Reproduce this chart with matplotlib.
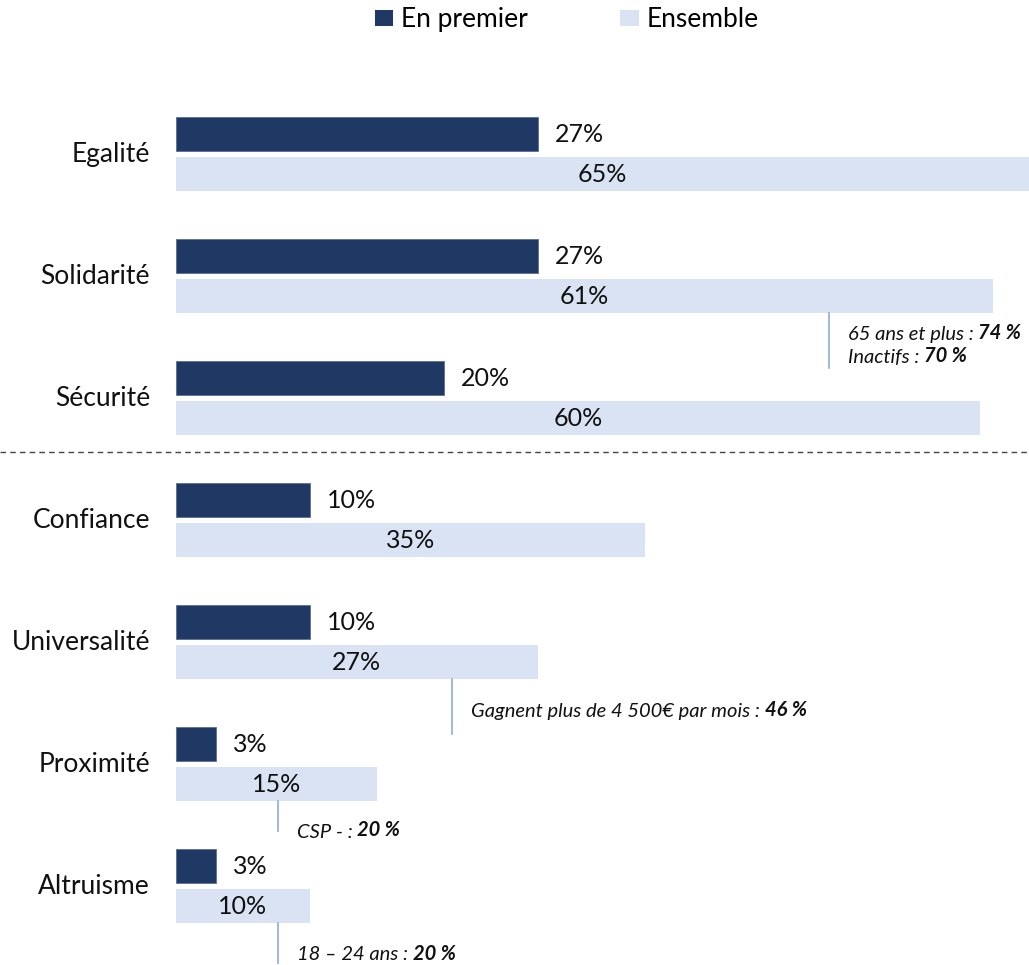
import matplotlib
matplotlib.use('Agg')
import matplotlib.pyplot as plt
from matplotlib.patches import Patch

plt.rcParams['font.family'] = ['Lato', 'DejaVu Sans']

# donnees
categories = ['Egalité', 'Solidarité', 'Sécurité', 'Confiance', 'Universalité', 'Proximité', 'Altruisme']
en_premier = [27, 27, 20, 10, 10, 3, 3]
ensemble = [65, 61, 60, 35, 27, 15, 10]
series = ['En premier', 'Ensemble']

# notes : (index categorie, position x de la ligne en %, [(texte italique, texte gras), ...])
notes = [
    (1, 48.7, [('65 ans et plus : ', '74 %'), ('Inactifs : ', '70 %')]),
    (4, 20.6, [('Gagnent plus de 4 500€ par mois : ', '46 %')]),
    (5, 7.6, [('CSP - : ', '20 %')]),
    (6, 7.6, [('18 – 24 ans : ', '20 %')]),
]

c_fonce = '#203864'
c_clair = '#DAE3F3'
c_note = '#8FAADC'

W, H = 1029, 965
fig = plt.figure(figsize=(W / 100, H / 100), dpi=100)
x0 = 176
ax = fig.add_axes([x0 / W, 0, (W - x0) / W, 1])
px_pct = 13.4
xmax = (W - x0) / px_pct
ax.set_xlim(0, xmax)
pas = 122.0
c0 = 154.0
ax.set_ylim((H - c0) / pas, -c0 / pas)
ax.axis('off')

h = 34 / pas
off = 20 / pas
ypos = list(range(len(categories)))

ax.barh([y - off for y in ypos], en_premier, height=h, color=c_fonce, edgecolor='#5b6f95', linewidth=0.6)
ax.barh([y + off for y in ypos], ensemble, height=h, color=c_clair)

for i, cat in enumerate(categories):
    ax.text(-26 / px_pct, i, cat, ha='right', va='center', fontsize=19, color='#111111', clip_on=False)
    ax.annotate('%d%%' % en_premier[i], xy=(en_premier[i], i - off), xytext=(12, 0),
                textcoords='offset points', ha='left', va='center', fontsize=18, color='#111111')
    ax.text(min(ensemble[i], xmax) / 2, i + off, '%d%%' % ensemble[i], ha='center', va='center',
            fontsize=18, color='#111111')

# ligne pointillee de separation
ax.axhline((452 - c0) / pas, xmin=-x0 / (W - x0), xmax=1, color='#444444', lw=1,
           ls=(0, (4, 3)), clip_on=False)

# notes : longueur du trait et decalage vertical des lignes de texte (en pixels)
traits = {1: 55, 4: 55, 5: 30, 6: 40}
decal = {1: [21, 44], 4: [33], 5: [31], 6: [32]}
for idx, xl, lignes in notes:
    y_haut = idx + off + h / 2
    ax.plot([xl, xl], [y_haut, y_haut + traits[idx] / pas], color=c_note, lw=1.2, clip_on=False)
    for (it, bo), d in zip(lignes, decal[idx]):
        t = ax.text(xl + 19 / px_pct, y_haut + d / pas, it, ha='left', va='center', fontsize=14.5,
                    style='italic', color='#111111', clip_on=False)
        ax.annotate(bo, xy=(1, 0), xycoords=t, ha='left', va='bottom', fontsize=14.5,
                    style='italic', weight='bold', color='#111111')

# legende
poignees = [Patch(facecolor=c_fonce), Patch(facecolor=c_clair)]
fig.legend(poignees, series, loc='upper center', bbox_to_anchor=(0.551, 1.017), ncol=2, frameon=False,
           fontsize=19, handlelength=0.7, handleheight=0.6, handletextpad=0.3, columnspacing=3.5)

fig.savefig('out.png', dpi=100)
